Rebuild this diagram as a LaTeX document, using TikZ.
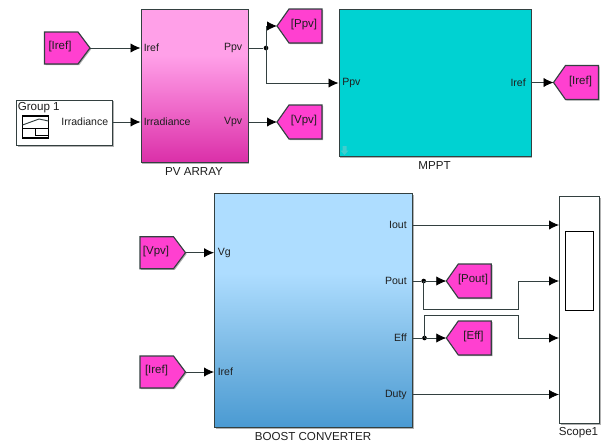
\documentclass[tikz,border=0pt]{standalone}
\usepackage{fontspec}
\setmainfont{Liberation Sans}
\usetikzlibrary{arrows.meta,shadows,shapes.symbols}
\definecolor{tagpink}{HTML}{FF40D0}
\definecolor{mpptcol}{HTML}{00D2D2}
\definecolor{edgecol}{HTML}{334040}
\definecolor{txtcol}{HTML}{1E1E1E}
\definecolor{pvt}{HTML}{FFA0E8}\definecolor{pvm}{HTML}{EE66C8}\definecolor{pvb}{HTML}{DA2FA8}
\definecolor{bot}{HTML}{AEDDFF}\definecolor{bom}{HTML}{7DBBE6}\definecolor{bob}{HTML}{4A9AD2}
\pgfdeclareverticalshading{pvshade}{100bp}{color(0bp)=(pvb); color(25bp)=(pvb); color(42bp)=(pvm); color(60bp)=(pvt); color(75bp)=(pvt); color(100bp)=(pvt)}
\pgfdeclareverticalshading{boostshade}{100bp}{color(0bp)=(bob); color(25bp)=(bob); color(42bp)=(bom); color(58bp)=(bot); color(75bp)=(bot); color(100bp)=(bot)}
\tikzset{
  x=0.75pt,y=-0.75pt,
  softshadow/.style={drop shadow={shadow xshift=0.9pt,shadow yshift=-0.9pt,fill=black,opacity=.3}},
  blockbox/.style={draw=edgecol,line width=0.85pt,anchor=north west,inner sep=0pt,softshadow},
  whitebox/.style={blockbox,fill=white},
  portlabel/.style={font=\fontsize{7.9}{9}\selectfont,text=txtcol,inner sep=0pt},
  blocklabel/.style={font=\fontsize{8.7}{10}\selectfont,text=txtcol,inner sep=0pt},
  taglabel/.style={font=\fontsize{8.6}{10}\selectfont,text=txtcol,inner sep=0pt},
  taglook/.style={draw=edgecol,line width=0.85pt,fill=tagpink,softshadow},
  wire/.style={draw=edgecol,line width=0.6pt},
  sig/.style={wire,-{Latex[length=7.5pt,width=7pt,black]}},
  dotnode/.style={circle,fill=black,inner sep=0pt,minimum size=3.5pt},
}
% \fromtag{name}{x-left}{y-centre}{text}{label x}
\newcommand{\fromtag}[5]{
  \path[taglook] (#2,#3-16) -- (#2+33.5,#3-16) -- (#2+45.5,#3) -- (#2+33.5,#3+16) -- (#2,#3+16) -- cycle;
  \coordinate (#1) at (#2+45.5,#3);
  \node[taglabel] (#1l) at (#5,#3-1) {#4};
}
% \gototag{name}{x-tip}{y-centre}{text}{label x}
\newcommand{\gototag}[5]{
  \path[taglook] (#2,#3) -- (#2+12,#3-17) -- (#2+45,#3-17) -- (#2+45,#3+17) -- (#2+12,#3+17) -- cycle;
  \coordinate (#1) at (#2,#3);
  \node[taglabel] (#1l) at (#5,#3-1) {#4};
}
\begin{document}
\begin{tikzpicture}
\useasboundingbox (0,0) rectangle (606,443);
% blocks
\node[blockbox,shading=pvshade,minimum width=80.25pt,minimum height=114.75pt] (pv) at (140.5,9) {};
\node[blockbox,fill=mpptcol,minimum width=144pt,minimum height=110.25pt] (mppt) at (338.5,9) {};
\node[whitebox,minimum width=72pt,minimum height=34pt] (grp) at (16,99.5) {};
\node[blockbox,shading=boostshade,minimum width=148.5pt,minimum height=175.5pt] (boost) at (214,193) {};
\node[whitebox,minimum width=30pt,minimum height=170.25pt] (scope) at (559,196) {};
\node[draw=black,line width=0.8pt,fill=white,anchor=north west,inner sep=0pt,minimum width=21pt,minimum height=59.5pt] (scopein) at (565.3,230.7) {};
% tags
\fromtag{ireffrom}{44.5}{48}{[Iref]}{60}
\gototag{ppvgoto}{277}{26}{[Ppv]}{304}
\gototag{vpvgoto}{277}{122}{[Vpv]}{304}
\gototag{irefgoto}{553.5}{82.5}{[Iref]}{580.5}
\fromtag{vpvfrom}{140}{252.7}{[Vpv]}{156}
\fromtag{irefb}{140}{372}{[Iref]}{156.5}
\gototag{poutgoto}{446.3}{281}{[Pout]}{473}
\gototag{effgoto}{446.3}{338}{[Eff]}{473.5}
% port coordinates
\coordinate (pvIref) at (140.5,48);
\coordinate (pvIrr) at (140.5,122);
\coordinate (pvPpv) at (248,48);
\coordinate (pvVpv) at (248,122);
\coordinate (mpPpv) at (338.5,83);
\coordinate (mpIref) at (530.5,82.5);
\coordinate (grpOut) at (112,122);
\coordinate (boVg) at (214,252.7);
\coordinate (boIref) at (214,372);
\coordinate (boIout) at (412,225);
\coordinate (boPout) at (412,281);
\coordinate (boEff) at (412,338);
\coordinate (boDuty) at (412,394.5);
\coordinate (sc1) at (559,225);
\coordinate (sc2) at (559,281);
\coordinate (sc3) at (559,338);
\coordinate (sc4) at (559,394.5);
\coordinate (po1) at (423.7,309.3);
\coordinate (po2) at (518.3,309.3);
\coordinate (po3) at (518.3,281);
\coordinate (ef1) at (424.5,315.7);
\coordinate (ef2) at (518.3,315.7);
\coordinate (ef3) at (518.3,338);
\node[dotnode] (jp) at (266,48) {};
\node[dotnode] (jo) at (423.7,281) {};
\node[dotnode] (je) at (424.5,338) {};
% connectors
\draw[sig] (ireffrom) -- (pvIref);
\draw[sig] (grpOut) -- (pvIrr);
\draw[wire] (pvPpv) -- (jp);
\draw[sig] (jp.center) |- (ppvgoto);
\draw[sig] (jp.center) |- (mpPpv);
\draw[sig] (pvVpv) -- (vpvgoto);
\draw[sig] (mpIref) -- (irefgoto);
\draw[sig] (vpvfrom) -- (boVg);
\draw[sig] (irefb) -- (boIref);
\draw[sig] (boIout) -- (sc1);
\draw[wire] (boPout) -- (jo);
\draw[sig] (jo.center) -- (poutgoto);
\draw[sig] (jo.center) -- (po1) -- (po2) -- (po3) -- (sc2);
\draw[wire] (boEff) -- (je);
\draw[sig] (je.center) -- (effgoto);
\draw[sig] (je.center) -- (ef1) -- (ef2) -- (ef3) -- (sc3);
\draw[sig] (boDuty) -- (sc4);
% port labels
\node[portlabel,anchor=west] (l1) at (143.5,48) {Iref};
\node[portlabel,anchor=west] (l2) at (143.5,122) {Irradiance};
\node[portlabel,anchor=east] (l3) at (242.5,48) {Ppv};
\node[portlabel,anchor=east] (l4) at (242.5,122) {Vpv};
\node[portlabel,anchor=west] (l5) at (342,82.5) {Ppv};
\node[portlabel,anchor=east] (l6) at (526,82.5) {Iref};
\node[portlabel,anchor=west] (l7) at (217.5,252.5) {Vg};
\node[portlabel,anchor=west] (l8) at (217.5,371.5) {Iref};
\node[portlabel,anchor=east] (l9) at (407,225) {Iout};
\node[portlabel,anchor=east] (l10) at (407,281) {Pout};
\node[portlabel,anchor=east] (l11) at (407,338) {Eff};
\node[portlabel,anchor=east] (l12) at (407,394.5) {Duty};
\node[portlabel,anchor=east] (l13) at (108.5,122) {Irradiance};
\node[blocklabel,anchor=west] (l14) at (17.5,108) {Group 1};
% block names
\node[blocklabel] (n1) at (194,172) {PV ARRAY};
\node[blocklabel] (n2) at (434.5,166) {MPPT};
\node[blocklabel] (n3) at (313,436.5) {BOOST CONVERTER};
\node[blocklabel] (n4) at (578.5,433) {Scope1};
% signal builder icon
\draw[black,line width=0.8pt] (22.5,116) rectangle (48.5,138);
\draw[black,line width=0.7pt] (22.5,128.5) -- (48.5,128.5);
\draw[edgecol,line width=0.7pt] (22.5,125) -- (39,119) -- (48.5,121);
\draw[black,line width=0.7pt] (35.5,128.5) -- (35.5,135) -- (48.5,135);
% subsystem down arrow
\fill[black!10!mpptcol!75!white] (342.5,146) rectangle (346.5,150.5) (340.5,150.5) -- (348.5,150.5) -- (344.5,155) -- cycle;
\end{tikzpicture}
\end{document}
